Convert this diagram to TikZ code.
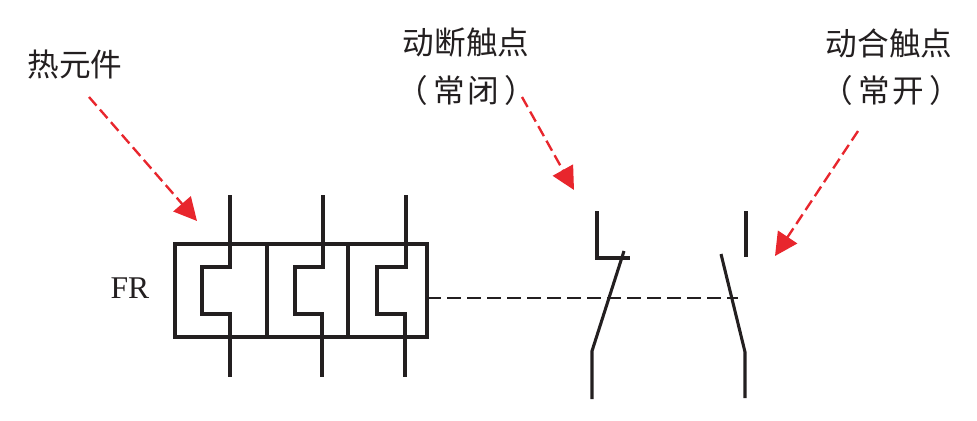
\documentclass[tikz,border=0pt]{standalone}
\usepackage{fontspec}
\setmainfont{Liberation Serif}
\newfontfamily\cjk{Noto Sans CJK SC}
\usetikzlibrary{arrows.meta}
\definecolor{linedark}{HTML}{231F20}
\definecolor{pointred}{HTML}{E8262D}
\tikzset{
  wire/.style={draw=linedark,line width=1.75pt,line join=miter},
  linkage/.style={draw=linedark,line width=0.95pt,dash pattern=on 8pt off 3.4pt},
  pointer/.style={draw=pointred,line width=1.35pt,dash pattern=on 6.5pt off 3pt,-{Triangle[length=13pt,width=13pt]}},
  caption/.style={font=\cjk\fontsize{18}{20}\selectfont,text=linedark,inner sep=0pt}
}
\begin{document}
\begin{tikzpicture}[x=0.02cm,y=-0.02cm]
\useasboundingbox (0,0) rectangle (977,420);
% labels
\node[caption] (heat) at (75,65) {热元件};
\node[caption] (nc) at (466,43) {动断触点};
\node[caption] (ncsub) at (466,90) {（\hspace{3pt}常\hspace{1.5pt}闭\hspace{3pt}）};
\node[caption] (no) at (889,43) {动合触点};
\node[caption] (nosub) at (891,90) {（\hspace{3pt}常\hspace{1.5pt}开\hspace{3pt}）};
\node[text=linedark,font=\fontsize{18}{20}\selectfont,inner sep=0pt] (fr) at (130,288) {FR};

% relay box
\coordinate (bnw) at (175,244);
\coordinate (bse) at (427,337);
\draw[wire] (bnw) rectangle (bse);
\draw[wire] (267,244) -- (267,337);
\draw[wire] (348,244) -- (348,337);

% heating elements
\draw[wire] (230,195) -- (230,267) -- (202,267) -- (202,314) -- (230,314) -- (230,377);
\draw[wire] (323,195) -- (323,267) -- (295,267) -- (295,314) -- (322,314) -- (322,377);
\draw[wire] (406,195) -- (406,267) -- (377,267) -- (377,314) -- (405,314) -- (405,377);

% contacts
\draw[wire] (597,211) -- (597,258) -- (630,258);
\draw[wire] (624,251) -- (592,351) -- (592,399);
\draw[wire] (746,211) -- (746,257);
\draw[wire] (721,254) -- (745,352) -- (745,398);

% linkage
\coordinate (linkend) at (738,298);
\draw[linkage] (427,298) -- (linkend);

% pointers
\coordinate (heatfrom) at (89,97);
\coordinate (heatto) at (197,221);
\coordinate (ncfrom) at (522,97);
\coordinate (ncto) at (574,190);
\coordinate (nofrom) at (858,131);
\coordinate (noto) at (775,256);
\draw[pointer] (heatfrom) -- (heatto);
\draw[pointer] (ncfrom) -- (ncto);
\draw[pointer] (nofrom) -- (noto);
\end{tikzpicture}
\end{document}
